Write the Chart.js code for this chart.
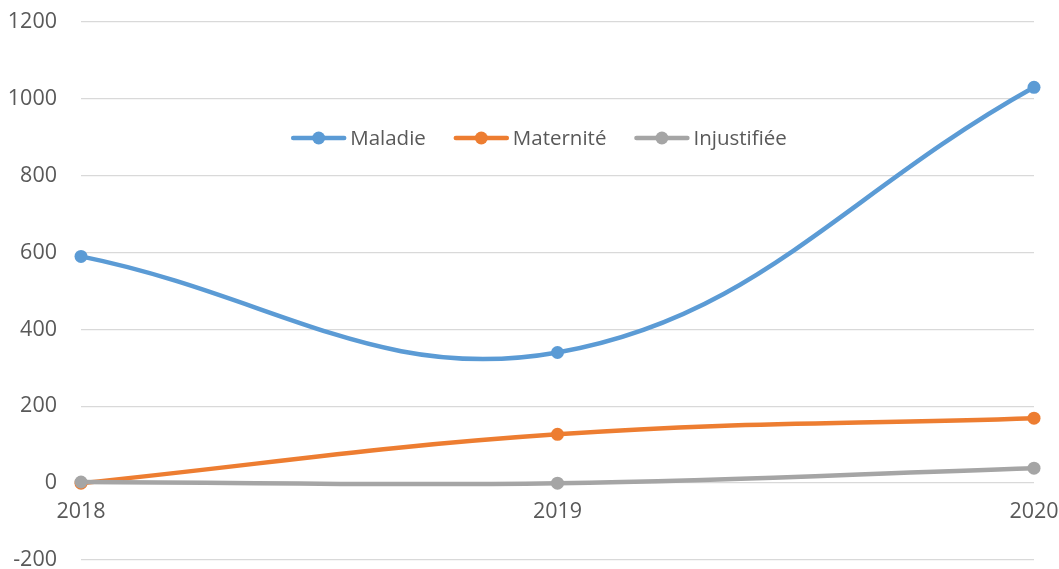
<!DOCTYPE html>
<html>
<head>
<meta charset="utf-8">
<script src="https://cdn.jsdelivr.net/npm/chart.js@4/dist/chart.umd.min.js"></script>
<style>
  html, body { margin: 0; padding: 0; background: #fff; }
  #wrap { width: 1059px; height: 569px; position: relative; }
</style>
</head>
<body>
<div id="wrap"><canvas id="absChart"></canvas></div>
<script>
// ---- data ----
const years = ['2018', '2019', '2020'];
const maladie = [590, 340, 1030];
const maternite = [0, 127, 169];
const injustifiee = [3, 0, 39];
const seriesNames = ['Maladie', 'Maternité', 'Injustifiée'];
const seriesColors = ['#5b9bd5', '#ed7d31', '#a5a5a5'];

const textColor = '#595959';
const font = "'Open Sans', 'Liberation Sans', sans-serif";

// legend drawn inside the plot, line + dot sample like the original
const innerLegend = {
    id: 'innerLegend',
    afterDraw(chart) {
        const ctx = chart.ctx;
        const cy = 138;
        const sample = 55, gap = 4, spacing = 28;
        ctx.save();
        ctx.font = '20.5px ' + font;
        ctx.textBaseline = 'middle';
        const widths = seriesNames.map(n => sample + gap + ctx.measureText(n).width);
        const total = widths.reduce((a, b) => a + b, 0) + spacing * (widths.length - 1);
        let x = 539 - total / 2;
        chart.data.datasets.forEach((ds, i) => {
            ctx.strokeStyle = ds.borderColor;
            ctx.lineWidth = 4.5;
            ctx.lineCap = 'round';
            ctx.beginPath();
            ctx.moveTo(x + 2, cy);
            ctx.lineTo(x + sample - 2, cy);
            ctx.stroke();
            ctx.fillStyle = ds.borderColor;
            ctx.beginPath();
            ctx.arc(x + sample / 2, cy, 6.5, 0, Math.PI * 2);
            ctx.fill();
            ctx.fillStyle = textColor;
            ctx.fillText(ds.label, x + sample + gap, cy + 1);
            x += widths[i] + spacing;
        });
        ctx.restore();
    }
};

const mkSet = (i, data, order) => ({
    label: seriesNames[i],
    data: data,
    borderColor: seriesColors[i],
    backgroundColor: seriesColors[i],
    borderWidth: 4.5,
    pointRadius: 6.5,
    pointHoverRadius: 6.5,
    pointBorderWidth: 0,
    tension: 0.4,
    clip: false,
    order: order
});

new Chart(document.getElementById('absChart'), {
    type: 'line',
    data: {
        labels: years,
        datasets: [
            mkSet(0, maladie, 3),
            mkSet(1, maternite, 2),
            mkSet(2, injustifiee, 1)
        ]
    },
    options: {
        responsive: true,
        maintainAspectRatio: false,
        animation: false,
        layout: { padding: { left: 0, right: 25, top: 22, bottom: 9 } },
        plugins: { legend: { display: false }, tooltip: { enabled: false } },
        scales: {
            x: {
                type: 'category',
                offset: false,
                position: { y: 0 },
                afterFit(s) {
                    s.height = 0;
                    s.paddingLeft = 0; s.paddingRight = 0; s.paddingTop = 0; s.paddingBottom = 0;
                },
                grid: { display: false, drawTicks: false },
                border: { display: false },
                ticks: { color: textColor, font: { size: 21.5, family: font }, padding: 16, maxRotation: 0 }
            },
            y: {
                min: -200,
                max: 1200,
                afterFit(s) {
                    s.width = 81;
                    s.paddingTop = 0; s.paddingBottom = 0;
                },
                grid: { color: '#d9d9d9', lineWidth: 1.3, drawTicks: false },
                border: { display: false },
                ticks: {
                    stepSize: 200, color: textColor, font: { size: 21.5, family: font }, padding: 24,
                    callback: v => String(v)
                }
            }
        }
    },
    plugins: [innerLegend]
});
</script>
</body>
</html>
